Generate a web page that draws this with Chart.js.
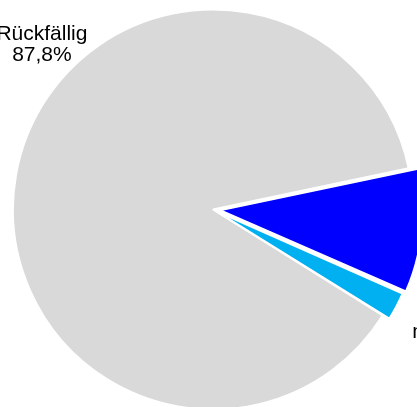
<!DOCTYPE html>
<html>
<head>
<meta charset="utf-8">
<script src="https://cdn.jsdelivr.net/npm/chart.js@4"></script>
<style>
  html, body { margin: 0; padding: 0; background: #fff; overflow: hidden; }
  #wrap { width: 417px; height: 407px; }
</style>
</head>
<body>
<div id="wrap"><canvas id="pie" width="417" height="407"></canvas></div>
<script>
// data
const categories = ["Rückfällig", "abstinent", "nicht rückfällig"];
const shares = [87.8, 9.9, 2.3];
const sliceColors = ["#d9d9d9", "#0000ff", "#00b0f0"];

const pct = v => v.toFixed(1).replace(".", ",") + "%";

// labels sit outside the pie, placed by angle (deg) + distance from centre
const labelPlugin = {
  id: "sliceLabels",
  afterDatasetsDraw(chart, args, opts) {
    const ctx = chart.ctx;
    const arcs = chart.getDatasetMeta(0).data;
    ctx.save();
    ctx.font = opts.font;
    ctx.fillStyle = "#000";
    ctx.textAlign = "center";
    ctx.textBaseline = "alphabetic";
    arcs.forEach((arc, i) => {
      const spot = opts.spots[i];
      const a = spot.angle * Math.PI / 180;
      const cx = arc.x + Math.cos(a) * spot.dist;
      const cy = arc.y + Math.sin(a) * spot.dist;
      const lines = [categories[i], pct(shares[i])];
      lines.forEach((t, j) => {
        ctx.fillText(t, cx, cy + (j - 0.5) * opts.lineHeight);
      });
    });
    ctx.restore();
  }
};

const pie = document.getElementById("pie");
new Chart(pie, {
  type: "pie",
  data: {
    labels: categories,
    datasets: [{
      data: shares,
      backgroundColor: sliceColors,
      borderColor: "#ffffff",
      borderWidth: 2,
      offset: [0, 28, 16],
      clip: false,
    }]
  },
  options: {
    responsive: false,
    animation: false,
    rotation: 122,
    radius: 200,
    layout: { padding: { left: 9, top: 12 } },
    plugins: {
      legend: { display: false },
      tooltip: { enabled: false },
      sliceLabels: {
        font: "21px 'Liberation Sans', Arial, sans-serif",
        lineHeight: 21,
        spots: [
          { angle: 222.9, dist: 233.5 },
          { angle: 5, dist: 285 },
          { angle: 27.6, dist: 300 },
        ],
      },
    },
  },
  plugins: [labelPlugin],
});
</script>
</body>
</html>
